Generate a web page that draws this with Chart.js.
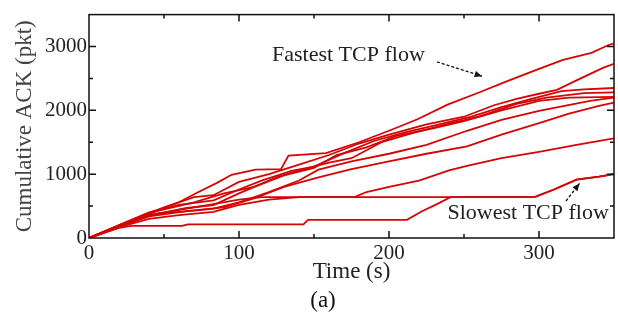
<!DOCTYPE html>
<html>
<head>
<meta charset="utf-8">
<script src="https://cdn.jsdelivr.net/npm/chart.js@4.4.0/dist/chart.umd.min.js"></script>
<style>
  html, body { margin: 0; padding: 0; background: #fff; }
</style>
</head>
<body>
<canvas id="ackChart" width="618" height="314"></canvas>
<script>
// time (s) / cumulative ACK (pkt) pairs, one array per TCP flow
const flowFastest = [[0,0],[20,170],[40,380],[60,560],[73,720],[85,860],[95,990],[111,1070],[128,1080],[133,1290],[158,1330],[180,1500],[200,1680],[219,1860],[239,2090],[260,2280],[278,2450],[300,2650],[316,2790],[335,2900],[346,3020],[350,3050]];
const flow2 = [[0,0],[15,150],[30,300],[50,480],[70,640],[83,670],[100,880],[120,1000],[140,1150],[160,1300],[180,1480],[200,1620],[225,1780],[250,1900],[270,2080],[285,2180],[300,2260],[312,2320],[325,2470],[343,2670],[350,2730]];
const flow3 = [[0,0],[20,200],[40,400],[60,520],[83,590],[100,760],[115,900],[135,1050],[150,1120],[170,1330],[190,1520],[210,1650],[230,1760],[255,1900],[275,2050],[295,2180],[315,2300],[330,2330],[350,2350]];
const flow4 = [[0,0],[20,180],[40,350],[65,470],[83,515],[100,700],[125,950],[140,1060],[160,1180],[175,1250],[195,1500],[215,1640],[240,1790],[260,1900],[285,2100],[305,2200],[330,2270],[350,2280]];
const flow5 = [[0,0],[20,200],[45,420],[70,560],[90,700],[110,800],[130,980],[150,1100],[165,1300],[185,1420],[205,1600],[230,1720],[250,1830],[275,2000],[300,2150],[320,2200],[350,2210]];
const flow6 = [[0,0],[20,190],[45,380],[70,430],[83,460],[100,560],[120,720],[140,900],[153,1070],[175,1200],[200,1320],[225,1460],[252,1680],[275,1850],[300,1990],[334,2150],[350,2200]];
const flow7 = [[0,0],[20,180],[40,340],[65,420],[90,480],[110,620],[130,800],[153,950],[175,1080],[200,1200],[225,1320],[252,1435],[275,1620],[300,1800],[320,1950],[340,2070],[350,2120]];
const flow8 = [[0,0],[20,190],[40,360],[60,440],[80,520],[100,600],[115,640],[177,640],[185,720],[200,800],[220,900],[240,1060],[252,1130],[275,1250],[300,1350],[325,1460],[350,1560]];
const flowSlowest = [[0,0],[20,170],[40,300],[60,360],[83,410],[100,520],[120,600],[140,640],[297,640],[310,760],[325,915],[340,960],[350,1000]];
const flow10 = [[0,0],[10,80],[20,160],[28,190],[62,190],[66,215],[143,215],[146,285],[212,285],[222,420],[232,530],[241,640],[297,640],[310,760],[325,915],[340,960],[350,1000]];

const allFlows = [flowFastest, flow2, flow3, flow4, flow5, flow6, flow7, flow8, flowSlowest, flow10];

const xTickValues = [0, 100, 200, 300];
const yTickValues = [0, 1000, 2000, 3000];

const serif = 'Liberation Serif';

// frame with inward ticks on all four sides, plus the arrow notes
const frameAndNotes = {
    id: 'frameAndNotes',
    afterDatasetsDraw(chart) {
        const ctx = chart.ctx;
        const xs = chart.scales.x;
        const ys = chart.scales.y;
        const { left, right, top, bottom } = chart.chartArea;

        ctx.save();
        ctx.strokeStyle = '#111';
        ctx.lineWidth = 1.5;
        ctx.strokeRect(left, top, right - left, bottom - top);

        ctx.beginPath();
        xs.ticks.forEach(t => {
            if (t.value <= xs.min || t.value >= xs.max) return;
            const px = xs.getPixelForValue(t.value);
            const len = t.value % 100 === 0 ? 7 : 4;
            ctx.moveTo(px, bottom); ctx.lineTo(px, bottom - len);
            ctx.moveTo(px, top); ctx.lineTo(px, top + len);
        });
        ys.ticks.forEach(t => {
            if (t.value <= ys.min || t.value >= ys.max) return;
            const py = ys.getPixelForValue(t.value);
            const len = t.value % 1000 === 0 ? 7 : 4;
            ctx.moveTo(left, py); ctx.lineTo(left + len, py);
            ctx.moveTo(right, py); ctx.lineTo(right - len, py);
        });
        ctx.stroke();

        // notes, placed in data units
        const drawNote = (text, tx, ty, from, to) => {
            ctx.fillStyle = '#222';
            ctx.font = '22px "' + serif + '"';
            ctx.textAlign = 'left';
            ctx.textBaseline = 'middle';
            ctx.fillText(text, xs.getPixelForValue(tx), ys.getPixelForValue(ty));

            const x1 = xs.getPixelForValue(from[0]), y1 = ys.getPixelForValue(from[1]);
            const x2 = xs.getPixelForValue(to[0]), y2 = ys.getPixelForValue(to[1]);
            ctx.strokeStyle = '#111';
            ctx.lineWidth = 1.3;
            ctx.setLineDash([3, 2]);
            ctx.beginPath();
            ctx.moveTo(x1, y1); ctx.lineTo(x2, y2);
            ctx.stroke();
            ctx.setLineDash([]);

            const ang = Math.atan2(y2 - y1, x2 - x1);
            ctx.fillStyle = '#111';
            ctx.beginPath();
            ctx.moveTo(x2, y2);
            ctx.lineTo(x2 - 8 * Math.cos(ang - 0.4), y2 - 8 * Math.sin(ang - 0.4));
            ctx.lineTo(x2 - 8 * Math.cos(ang + 0.4), y2 - 8 * Math.sin(ang + 0.4));
            ctx.closePath();
            ctx.fill();
        };
        drawNote('Fastest TCP flow', 122, 2870, [232, 2760], [262, 2535]);
        drawNote('Slowest TCP flow', 239, 395, [318, 580], [327, 855]);

        // sub-figure caption
        ctx.fillStyle = '#111';
        ctx.font = '23px "' + serif + '"';
        ctx.textAlign = 'center';
        ctx.textBaseline = 'middle';
        ctx.fillText('(a)', 323, 301);
        ctx.restore();
    }
};

const chartCtx = document.getElementById('ackChart');

new Chart(chartCtx, {
    type: 'line',
    data: {
        datasets: allFlows.map(flow => ({
            data: flow.map(p => ({ x: p[0], y: p[1] })),
            borderColor: 'rgb(214, 4, 4)',
            borderWidth: 1.8,
            pointRadius: 0,
            tension: 0,
            fill: false
        }))
    },
    options: {
        responsive: false,
        animation: false,
        layout: { padding: { top: 9, right: 4, bottom: 26, left: 0 } },
        plugins: {
            legend: { display: false },
            tooltip: { enabled: false }
        },
        scales: {
            x: {
                type: 'linear',
                min: 0,
                max: 350,
                afterFit: scale => { scale.height = 50; },
                grid: { display: false, drawTicks: false },
                border: { display: false },
                ticks: {
                    stepSize: 50,
                    autoSkip: false,
                    maxRotation: 0,
                    padding: 3,
                    color: '#222',
                    font: { family: serif, size: 21 },
                    callback: v => xTickValues.includes(v) ? String(v) : ''
                },
                title: {
                    display: true,
                    text: 'Time (s)',
                    color: '#222',
                    font: { family: serif, size: 23 },
                    padding: { top: 0, bottom: 2 }
                }
            },
            y: {
                min: 0,
                max: 3500,
                afterFit: scale => { scale.width = 89; },
                grid: { display: false, drawTicks: false },
                border: { display: false },
                ticks: {
                    stepSize: 500,
                    autoSkip: false,
                    padding: 2,
                    color: '#222',
                    font: { family: serif, size: 21 },
                    callback: v => yTickValues.includes(v) ? String(v) : ''
                },
                title: {
                    display: true,
                    text: 'Cumulative ACK (pkt)',
                    color: '#444',
                    font: { family: serif, size: 23 },
                    padding: { top: 11, bottom: 0 }
                }
            }
        }
    },
    plugins: [frameAndNotes]
});
</script>
</body>
</html>
